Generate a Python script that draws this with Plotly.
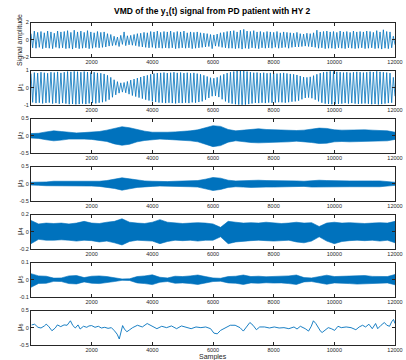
import numpy as np
import plotly.graph_objects as go
from plotly.subplots import make_subplots

# ---------------- data ----------------
# Raw signal: successive positive and negative extrema (about 110 cycles)
sig_peaks = [0.7, 1.0, 0.85, 0.95, 0.8, 1.0, 0.9, 0.75, 1.0, 0.9,
             0.95, 1.05, 0.85, 1.1, 0.9, 1.0, 0.85, 1.05, 0.9, 0.8,
             0.95, 0.85, 0.9, 0.7, 0.6, 0.4, 0.3, 0.5, 0.9, 0.45,
             0.5, 0.6, 0.7, 0.75, 0.85, 0.8, 0.95, 0.9, 1.0, 0.85,
             0.95, 0.9, 1.0, 0.85, 0.95, 0.9, 1.0, 0.8, 0.9, 0.85,
             0.9, 0.8, 0.75, 0.7, 0.6, 0.55, 0.65, 0.8, 0.85, 0.95,
             1.0, 1.05, 0.9, 1.1, 1.2, 1.0, 0.95, 1.05, 0.9, 0.95,
             0.85, 0.95, 0.9, 0.85, 0.95, 0.8, 0.9, 0.85, 0.8, 0.75,
             0.85, 0.7, 0.65, 0.75, 0.7, 0.8, 1.1, 0.9, 0.95, 1.0,
             0.9, 0.95, 0.85, 1.0, 0.9, 0.95, 0.85, 1.0, 0.9, 0.95,
             0.9, 1.0, 0.95, 0.85, 1.05, 0.9, 1.15, 0.95, 0.9, 0.4]
sig_troughs = [-0.95, -1.0, -0.9, -1.05, -0.95, -1.0, -1.05, -0.9, -1.0, -0.95,
               -1.05, -1.0, -1.1, -0.95, -1.05, -1.0, -0.95, -1.05, -1.0, -0.9,
               -0.95, -0.9, -0.85, -0.75, -0.7, -0.65, -0.8, -0.55, -0.7, -0.6,
               -0.65, -0.7, -0.8, -0.85, -0.9, -0.95, -0.9, -1.0, -0.95, -1.0,
               -0.95, -1.0, -0.95, -1.05, -1.0, -0.95, -1.0, -0.95, -1.05, -1.0,
               -0.95, -0.9, -0.85, -0.8, -1.05, -0.75, -0.8, -0.9, -0.95, -1.0,
               -1.0, -1.05, -1.0, -1.1, -1.0, -1.05, -0.95, -1.0, -1.05, -0.95,
               -1.0, -0.95, -1.0, -0.9, -1.0, -0.95, -0.9, -1.0, -0.9, -0.85,
               -0.85, -0.8, -0.75, -0.8, -0.85, -0.9, -1.0, -0.95, -1.05, -1.0,
               -1.0, -1.05, -0.95, -1.0, -1.05, -0.95, -1.0, -1.05, -1.0, -0.95,
               -1.05, -1.0, -0.95, -1.05, -1.0, -1.1, -1.0, -1.05, -0.95, -0.6]

# Mode 1: successive positive and negative extrema
m1_peaks = [0.82, 0.88, 0.85, 0.9, 0.87, 0.84, 0.9, 0.88, 0.92, 0.86,
            0.9, 0.94, 0.92, 0.95, 0.93, 0.9, 0.94, 0.91, 0.88, 0.9,
            0.86, 0.84, 0.8, 0.72, 0.6, 0.46, 0.35, 0.28, 0.3, 0.36,
            0.44, 0.5, 0.56, 0.62, 0.68, 0.72, 0.78, 0.82, 0.85, 0.86,
            0.88, 0.85, 0.87, 0.9, 0.86, 0.88, 0.85, 0.87, 0.84, 0.86,
            0.82, 0.78, 0.72, 0.65, 0.58, 0.55, 0.6, 0.7, 0.78, 0.85,
            0.9, 0.94, 0.97, 1.0, 0.98, 0.94, 0.9, 0.87, 0.88, 0.85,
            0.87, 0.84, 0.86, 0.85, 0.82, 0.84, 0.86, 0.83, 0.8, 0.78,
            0.74, 0.68, 0.62, 0.6, 0.63, 0.7, 0.78, 0.85, 0.9, 0.92,
            0.95, 0.94, 0.92, 0.9, 0.88, 0.9, 0.87, 0.9, 0.92, 0.9,
            0.88, 0.9, 0.93, 0.91, 0.95, 0.92, 0.9, 0.88, 0.85, 0.6]
m1_troughs = [-0.86, -0.9, -0.88, -0.92, -0.89, -0.87, -0.93, -0.9, -0.94, -0.9,
              -0.93, -0.97, -0.95, -0.98, -0.96, -0.93, -0.96, -0.92, -0.9, -0.92,
              -0.88, -0.85, -0.8, -0.7, -0.56, -0.42, -0.32, -0.26, -0.3, -0.38,
              -0.46, -0.52, -0.58, -0.64, -0.7, -0.75, -0.8, -0.84, -0.87, -0.88,
              -0.9, -0.88, -0.9, -0.92, -0.89, -0.9, -0.88, -0.9, -0.86, -0.88,
              -0.84, -0.8, -0.7, -0.6, -0.5, -0.48, -0.55, -0.68, -0.8, -0.88,
              -0.93, -0.97, -1.0, -1.02, -1.0, -0.96, -0.92, -0.89, -0.9, -0.88,
              -0.9, -0.87, -0.88, -0.87, -0.85, -0.86, -0.88, -0.85, -0.82, -0.8,
              -0.76, -0.68, -0.6, -0.58, -0.62, -0.7, -0.8, -0.88, -0.93, -0.95,
              -0.97, -0.96, -0.95, -0.93, -0.9, -0.93, -0.9, -0.93, -0.95, -0.93,
              -0.92, -0.94, -0.97, -0.95, -0.99, -0.96, -0.93, -0.9, -0.88, -0.5]

# Envelopes of the fast modes, sampled every 250 samples (0 ... 12000)
env_samples = list(range(0, 12001, 250))

m2_upper = [0.06, 0.07, 0.11, 0.14, 0.12, 0.09, 0.08, 0.09, 0.1, 0.12,
            0.16, 0.22, 0.26, 0.23, 0.17, 0.13, 0.1, 0.09, 0.1, 0.11,
            0.12, 0.14, 0.17, 0.24, 0.29, 0.27, 0.18, 0.14, 0.16, 0.19,
            0.2, 0.18, 0.17, 0.18, 0.17, 0.15, 0.16, 0.19, 0.22, 0.21,
            0.17, 0.16, 0.17, 0.16, 0.17, 0.16, 0.15, 0.14, 0.1]
m2_lower = [-0.07, -0.08, -0.12, -0.15, -0.13, -0.1, -0.09, -0.1, -0.11, -0.13,
            -0.17, -0.24, -0.28, -0.25, -0.18, -0.14, -0.11, -0.1, -0.11, -0.12,
            -0.13, -0.15, -0.18, -0.26, -0.32, -0.29, -0.19, -0.15, -0.17, -0.2,
            -0.21, -0.19, -0.18, -0.19, -0.18, -0.16, -0.17, -0.2, -0.23, -0.22,
            -0.18, -0.17, -0.18, -0.17, -0.18, -0.17, -0.16, -0.15, -0.11]

m3_upper = [0.04, 0.04, 0.05, 0.07, 0.07, 0.06, 0.05, 0.06, 0.06, 0.07,
            0.09, 0.13, 0.17, 0.14, 0.1, 0.08, 0.07, 0.06, 0.06, 0.07,
            0.07, 0.08, 0.09, 0.13, 0.18, 0.16, 0.1, 0.08, 0.09, 0.1,
            0.1, 0.09, 0.09, 0.1, 0.09, 0.08, 0.07, 0.09, 0.1, 0.09,
            0.08, 0.08, 0.08, 0.08, 0.07, 0.08, 0.08, 0.07, 0.04]
m3_lower = [-0.04, -0.05, -0.06, -0.08, -0.08, -0.07, -0.06, -0.07, -0.07, -0.08,
            -0.1, -0.14, -0.19, -0.15, -0.11, -0.09, -0.08, -0.07, -0.07, -0.08,
            -0.08, -0.09, -0.1, -0.15, -0.2, -0.17, -0.11, -0.09, -0.1, -0.11,
            -0.11, -0.1, -0.1, -0.11, -0.1, -0.09, -0.08, -0.1, -0.11, -0.1,
            -0.09, -0.09, -0.09, -0.09, -0.08, -0.09, -0.09, -0.08, -0.05]

m4_upper = [0.13, 0.09, 0.1, 0.095, 0.1, 0.09, 0.1, 0.12, 0.1, 0.095,
            0.11, 0.12, 0.15, 0.11, 0.1, 0.095, 0.11, 0.14, 0.11, 0.1,
            0.095, 0.1, 0.105, 0.1, 0.09, 0.05, 0.12, 0.11, 0.1, 0.105,
            0.1, 0.11, 0.1, 0.095, 0.1, 0.11, 0.1, 0.105, 0.06, 0.1,
            0.11, 0.1, 0.105, 0.1, 0.095, 0.1, 0.105, 0.1, 0.12]
m4_lower = [-0.14, -0.09, -0.1, -0.1, -0.095, -0.1, -0.11, -0.1, -0.105, -0.12,
            -0.11, -0.13, -0.155, -0.115, -0.1, -0.105, -0.11, -0.14, -0.115, -0.1,
            -0.105, -0.1, -0.11, -0.1, -0.1, -0.06, -0.14, -0.12, -0.11, -0.105,
            -0.1, -0.105, -0.11, -0.105, -0.1, -0.12, -0.13, -0.11, -0.06, -0.11,
            -0.14, -0.115, -0.105, -0.1, -0.105, -0.1, -0.11, -0.1, -0.13]

m5_upper = [0.035, 0.022, 0.02, 0.009, 0.01, 0.022, 0.024, 0.012, 0.02, 0.022,
            0.018, 0.01, 0.004, 0.005, 0.018, 0.022, 0.028, 0.014, 0.01, 0.02,
            0.018, 0.022, 0.027, 0.018, 0.01, 0.008, 0.018, 0.02, 0.027, 0.018,
            0.02, 0.017, 0.019, 0.018, 0.022, 0.027, 0.012, 0.01, 0.02, 0.026,
            0.018, 0.019, 0.022, 0.025, 0.024, 0.019, 0.02, 0.018, 0.03]
m5_lower = [-0.045, -0.022, -0.021, -0.01, -0.011, -0.023, -0.025, -0.013, -0.021, -0.023,
            -0.019, -0.011, -0.004, -0.005, -0.019, -0.023, -0.029, -0.015, -0.011, -0.021,
            -0.019, -0.023, -0.028, -0.019, -0.011, -0.009, -0.019, -0.021, -0.028, -0.019,
            -0.021, -0.018, -0.02, -0.019, -0.023, -0.028, -0.013, -0.011, -0.021, -0.027,
            -0.019, -0.02, -0.023, -0.026, -0.025, -0.02, -0.021, -0.019, -0.03]

# Mode 6: slow residual component
m6_x = [20, 120, 230, 330, 440, 500, 580, 690, 800, 870, 980, 1090, 1190, 1300,
        1380, 1460, 1550, 1620, 1730, 1840, 1910, 2000, 2110, 2220, 2320, 2430,
        2540, 2650, 2750, 2840, 2910, 2970, 3020, 3080, 3160, 3240, 3350, 3510,
        3670, 3830, 3990, 4150, 4310, 4470, 4630, 4800, 4960, 5120, 5280, 5440,
        5600, 5760, 5920, 6030, 6140, 6250, 6410, 6570, 6730, 6890, 7000, 7110,
        7215, 7320, 7430, 7540, 7700, 7860, 8020, 8180, 8340, 8500, 8670, 8770,
        8880, 9040, 9150, 9240, 9310, 9390, 9470, 9550, 9600, 9690, 9800, 9900,
        10010, 10120, 10230, 10390, 10550, 10710, 10820, 10930, 11030, 11140,
        11250, 11360, 11430, 11540, 11650, 11730, 11820, 11890, 11950, 12000]
m6_y = [0.08, 0.1, 0.01, -0.01, 0.05, 0.1, 0.04, -0.09, -0.01, 0.08, 0.03, 0.08,
        0.07, 0.2, 0.06, -0.01, 0.08, -0.04, 0.04, 0.01, 0.05, 0.06, 0.01, 0.04,
        -0.01, 0.01, -0.02, 0.0, -0.09, -0.19, -0.33, -0.14, 0.06, -0.04, -0.12,
        -0.07, 0.0, 0.07, 0.02, 0.12, 0.04, -0.03, 0.04, 0.0, 0.05, -0.03, 0.05,
        0.02, -0.03, 0.02, 0.0, 0.02, -0.03, -0.16, -0.18, -0.08, 0.0, 0.07, 0.07,
        0.0, -0.1, 0.04, 0.15, 0.07, -0.06, 0.02, 0.02, -0.01, 0.02, -0.01, 0.0,
        -0.03, 0.02, -0.04, 0.04, -0.03, -0.1, 0.04, 0.2, 0.12, 0.0, -0.11, -0.14,
        -0.08, 0.0, -0.03, -0.08, 0.04, 0.0, 0.02, 0.0, -0.06, 0.02, 0.07, 0.02,
        0.1, -0.03, 0.12, -0.03, 0.07, 0.15, 0.07, 0.04, 0.17, 0.24, 0.12]

x_ticks = [2000, 4000, 6000, 8000, 10000, 12000]
y_ticks = [[-2, 0, 2], [-1, 0, 1], [-0.5, 0, 0.5], [-0.5, 0, 0.5],
           [-0.2, 0, 0.2], [-0.1, 0, 0.1], [-0.5, 0, 0.5]]
y_tick_text = [["-2", "0", "2"], ["-1", "0", "1"], ["-0.5", "0", "0.5"],
               ["-0.5", "0", "0.5"], ["-0.2", "0", "0.2"], ["-0.1", "0", "0.1"],
               ["-0.5", "0", "0.5"]]
y_titles = ["Signal amplitude", "μ<sub>1</sub>", "μ<sub>2</sub>", "μ<sub>3</sub>",
            "μ<sub>4</sub>", "μ<sub>5</sub>", "μ<sub>6</sub>"]

# ---------------- figure ----------------
BLUE = "#0072BD"
AXC = "#262626"
FONT = "Liberation Sans, Arial, sans-serif"
W, H = 406, 360
ML, MR, MT, MB = 31, 3, 22, 15

fig = make_subplots(rows=7, cols=1)


def zigzag(peaks, troughs):
    vals = []
    for p, t in zip(peaks, troughs):
        vals.extend([p, t])
    xs = np.linspace(0, 12000, len(vals))
    return xs, vals


xs, ys = zigzag(sig_peaks, sig_troughs)
fig.add_trace(go.Scatter(x=xs, y=ys, mode="lines", line=dict(color=BLUE, width=0.8)), row=1, col=1)
xs, ys = zigzag(m1_peaks, m1_troughs)
fig.add_trace(go.Scatter(x=xs, y=ys, mode="lines", line=dict(color=BLUE, width=0.8)), row=2, col=1)

for r, (up, lo) in enumerate([(m2_upper, m2_lower), (m3_upper, m3_lower),
                              (m4_upper, m4_lower), (m5_upper, m5_lower)], start=3):
    bx = env_samples + env_samples[::-1]
    by = up + lo[::-1]
    fig.add_trace(go.Scatter(x=bx, y=by, mode="lines", fill="toself", fillcolor=BLUE,
                             line=dict(color=BLUE, width=0.6)), row=r, col=1)

fig.add_trace(go.Scatter(x=m6_x, y=m6_y, mode="lines", line=dict(color=BLUE, width=0.9)), row=7, col=1)

plot_h = H - MT - MB
plot_w = W - ML - MR
for i in range(7):
    top = 22.5 + 48.0 * i
    bot = top + 34.3
    dom = [(H - MB - bot) / plot_h, (H - MB - top) / plot_h]
    ax_suffix = "" if i == 0 else str(i + 1)
    lo_r, hi_r = y_ticks[i][0], y_ticks[i][-1]
    fig.layout["yaxis" + ax_suffix].update(
        domain=dom, range=[lo_r, hi_r], tickvals=y_ticks[i], ticktext=y_tick_text[i],
        ticks="inside", ticklen=3, tickwidth=0.8, tickcolor=AXC,
        showline=True, linecolor=AXC, linewidth=1, mirror="allticks",
        showgrid=False, zeroline=False,
        tickfont=dict(family=FONT, size=5.5, color=AXC))
    fig.layout["xaxis" + ax_suffix].update(
        range=[0, 12000], tickvals=x_ticks, ticktext=[str(v) for v in x_ticks],
        ticks="inside", ticklen=3, tickwidth=0.8, tickcolor=AXC,
        showline=True, linecolor=AXC, linewidth=1, mirror="allticks",
        showgrid=False, zeroline=False, ticklabeloverflow="allow",
        tickfont=dict(family=FONT, size=5.5, color=AXC))
    fig.add_annotation(text=y_titles[i], xref="paper", yref="paper",
                       x=(19 - ML) / plot_w, y=(dom[0] + dom[1]) / 2,
                       textangle=-90, showarrow=False, xanchor="center", yanchor="middle",
                       font=dict(family=FONT, size=7 if i == 0 else 7.5, color=AXC))

fig.add_annotation(text="<b>VMD of the y<sub>1</sub>(t) signal from PD patient with HY 2</b>",
                   xref="paper", yref="paper", x=(216.5 - ML) / plot_w, y=(H - MB - 11) / plot_h,
                   showarrow=False, xanchor="center", yanchor="middle",
                   font=dict(family=FONT, size=8.5, color="#000000"))
fig.add_annotation(text="Samples", xref="paper", yref="paper",
                   x=(217 - ML) / plot_w, y=(H - MB - 357) / plot_h,
                   showarrow=False, xanchor="center", yanchor="middle",
                   font=dict(family=FONT, size=7, color=AXC))

fig.update_layout(width=W, height=H, margin=dict(l=ML, r=MR, t=MT, b=MB),
                  paper_bgcolor="white", plot_bgcolor="white", showlegend=False)

fig.write_html("out.html")
